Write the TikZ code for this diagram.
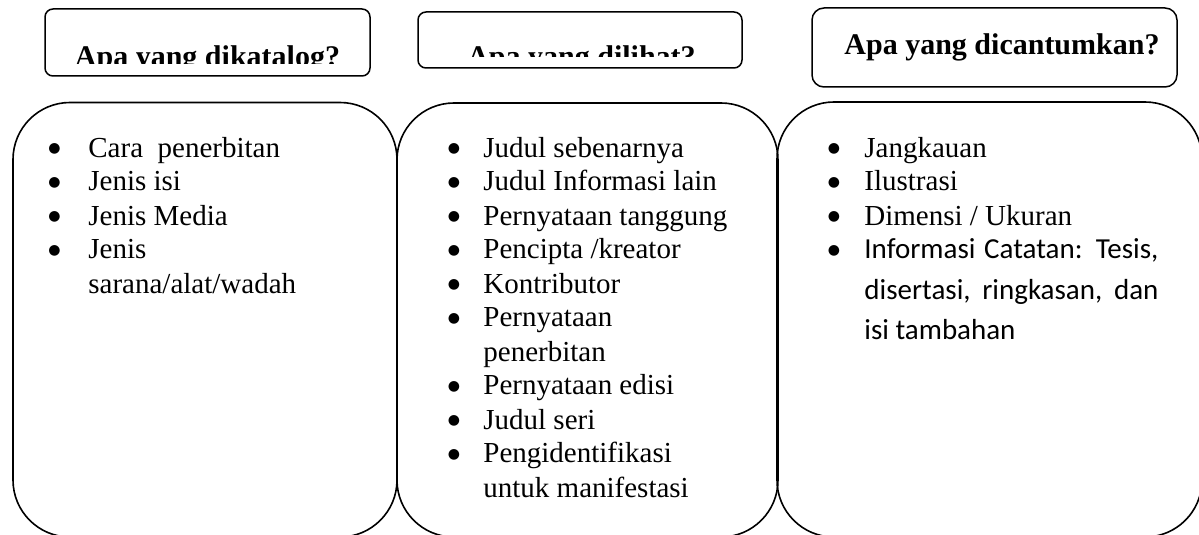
\documentclass[tikz,border=0pt]{standalone}
\usepackage{fontspec}
\usepackage{array}
\setmainfont{Liberation Serif}
\newfontfamily\carlito{Carlito}
\newfontfamily\dejavu{DejaVu Sans}
% list bullet: a small black circle set at the height of a text bullet
\newcommand\bigbul{\raisebox{2.2pt}{\dejavu\fontsize{7pt}{8pt}\selectfont ●}}
\begin{document}
\begin{tikzpicture}[x=0.5pt,y=-0.5pt,
  titlebox/.style={draw, line width=0.75pt, inner sep=0pt},
  bigbox/.style={draw, line width=0.8pt, rounded corners=28.5pt, inner sep=0pt},
  heading/.style={font=\fontsize{15pt}{18pt}\selectfont\bfseries, inner sep=0pt, anchor=base},
  itemlist/.style={font=\fontsize{14.5pt}{17pt}\selectfont, inner sep=0pt, anchor=base west}]
\useasboundingbox (0,0) rectangle (1199,535);
\clip (0,0) rectangle (1199,535);

% heading frames
\node[titlebox, rounded corners=4pt, minimum width=162.5pt, minimum height=33.5pt] (f1) at (207.5,42.5) {};
\node[titlebox, rounded corners=4pt, minimum width=162pt, minimum height=28pt] (f2) at (580,40) {};
\node[titlebox, rounded corners=6pt, minimum width=182.5pt, minimum height=39.5pt] (f3) at (994.5,47.5) {};

% heading texts (the first two are cut off inside their frames)
\begin{scope}
  \clip (45,9) rectangle (370,63.5);
  \node[heading] (h1) at (207.5,67) {Apa yang dikatalog?};
\end{scope}
\begin{scope}
  \clip (418,12) rectangle (742,57);
  \node[heading] (h2) at (581.5,67) {Apa yang dilihat?};
\end{scope}
\node[heading] (h3) at (1002,55) {Apa yang dicantumkan?};

% content panels
\node[bigbox, minimum width=192pt, minimum height=217.25pt] (b1) at (205,319.75) {};
\node[bigbox, minimum width=190.5pt, minimum height=217pt] (b2) at (587.5,320) {};
\node[bigbox, minimum width=212.5pt, minimum height=217.5pt] (b3) at (989.5,319.5) {};

% item lists
\node[itemlist] (l1) at (48,157) {%
  \begin{tabular}[t]{@{}w{l}{20pt}@{}l@{}}
  \bigbul & Cara\ \ penerbitan\\
  \bigbul & Jenis isi\\
  \bigbul & Jenis Media\\
  \bigbul & Jenis\\
          & sarana/alat/wadah
  \end{tabular}};

\node[itemlist] (l2) at (447.5,157) {%
  \begin{tabular}[t]{@{}w{l}{17.75pt}@{}l@{}}
  \bigbul & Judul sebenarnya\\
  \bigbul & Judul Informasi lain\\
  \bigbul & Pernyataan tanggung\\
  \bigbul & Pencipta /kreator\\
  \bigbul & Kontributor\\
  \bigbul & Pernyataan\\
          & penerbitan\\
  \bigbul & Pernyataan edisi\\
  \bigbul & Judul seri\\
  \bigbul & Pengidentifikasi\\
          & untuk manifestasi
  \end{tabular}};

\node[itemlist] (l3) at (827.5,157) {%
  \begin{tabular}[t]{@{}w{l}{18.25pt}@{}l@{}}
  \bigbul & Jangkauan\\
  \bigbul & Ilustrasi\\
  \bigbul & Dimensi / Ukuran\\
  \bigbul & {\carlito\makebox[147pt][s]{Informasi Catatan: Tesis,}}\\[3pt]
          & {\carlito\makebox[147pt][s]{disertasi, ringkasan, dan}}\\[3pt]
          & {\carlito isi tambahan}
  \end{tabular}};
\end{tikzpicture}
\end{document}
